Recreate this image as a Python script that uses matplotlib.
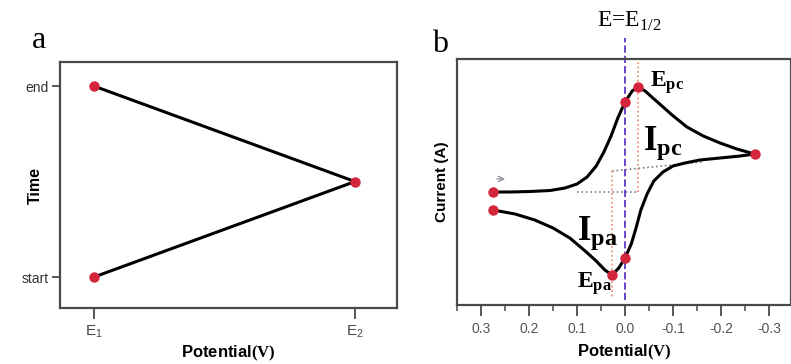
import matplotlib
matplotlib.use("Agg")
import matplotlib.pyplot as plt
from matplotlib.ticker import MultipleLocator

plt.rcParams['mathtext.fontset'] = 'custom'
plt.rcParams['mathtext.rm'] = 'Liberation Serif'
plt.rcParams['mathtext.bf'] = 'Liberation Serif:bold'
plt.rcParams['mathtext.sf'] = 'Liberation Sans'
plt.rcParams['font.family'] = 'Liberation Sans'

# ---- panel a: triangular potential sweep ----
sweep_E = [1, 2, 1]          # E1 -> E2 -> E1
sweep_t = [0, 0.5, 1]        # start -> end
sweep_ticks_x = [1, 2]
sweep_labels_x = [r'$\mathsf{E_1}$', r'$\mathsf{E_2}$']
sweep_ticks_y = [0, 1]
sweep_labels_y = ['start', 'end']

# ---- panel b: cyclic voltammogram ----
fwd_V = [0.275, 0.240, 0.198, 0.156, 0.125, 0.100, 0.079, 0.060, 0.044, 0.029,
         0.015, 0.000, -0.015, -0.027, -0.042, -0.058, -0.077, -0.098, -0.129,
         -0.163, -0.198, -0.233, -0.270]
fwd_I = [0.0, 0.0, 0.05, 0.15, 0.4, 0.8, 1.5, 2.6, 4.0, 5.6,
         7.4, 9.0, 10.1, 10.5, 10.1, 9.4, 8.6, 7.7, 6.5,
         5.6, 4.9, 4.3, 3.8]
rev_V = [-0.270, -0.240, -0.198, -0.156, -0.125, -0.100, -0.079, -0.060, -0.046,
         -0.033, -0.023, -0.013, 0.000, 0.013, 0.027, 0.042, 0.060, 0.083, 0.115,
         0.150, 0.188, 0.229, 0.275]
rev_I = [3.8, 3.6, 3.4, 3.2, 2.9, 2.6, 2.0, 1.1, -0.2,
         -1.8, -3.6, -5.2, -6.6, -7.6, -8.3, -7.8, -6.9, -5.9, -4.6,
         -3.6, -2.8, -2.2, -1.8]
# marked points: start, end, vertex, Epc, Epa and the two E1/2 crossings
mark_V = [0.275, 0.275, -0.270, -0.027, 0.027, 0.000, 0.000]
mark_I = [0.0, -1.8, 3.8, 10.5, -8.3, 9.0, -6.6]
E_half = 0.0
E_pc, I_pc_base = -0.027, 0.0
E_pa, I_pa_base = 0.027, 2.1
base_pa_V = [0.027, -0.160]
base_pa_I = [2.1, 3.0]
base_pc_V = [0.100, -0.027]
base_pc_I = [0.0, 0.0]

red = '#d3263c'
spine_c = '#4a4a4a'

fig = plt.figure(figsize=(7.91, 3.64), dpi=100)

# ---------- a ----------
ax1 = fig.add_axes([60/791, 1-308/364, 337/791, 246/364])
ax1.plot(sweep_E, sweep_t, color='black', lw=2.2, zorder=2)
ax1.plot(sweep_E, sweep_t, 'o', color=red, ms=6.5, zorder=3)
ax1.set_xlim(0.87, 2.161)
ax1.set_ylim(-0.162, 1.126)
ax1.set_xticks(sweep_ticks_x)
ax1.set_xticklabels(sweep_labels_x, fontsize=11, color='#444444')
ax1.set_yticks(sweep_ticks_y)
ax1.set_yticklabels(sweep_labels_y, fontsize=10, color='#333333')
ax1.tick_params(axis='x', direction='out', length=8, width=1.3, color=spine_c, pad=3)
ax1.tick_params(axis='y', direction='out', length=6, width=1.3, color=spine_c, pad=2)
for s in ax1.spines.values():
    s.set_color(spine_c)
    s.set_linewidth(1.6)
ax1.set_ylabel('Time', fontsize=11.5, fontweight='bold')
ax1.yaxis.set_label_coords(-0.05, 0.5)
ax1.set_xlabel(r'Potential$\mathbf{(V)}$', fontsize=12, fontweight='bold', labelpad=3)
fig.text(32/791, 1-48/364, 'a', fontsize=23, family='Liberation Serif', va='baseline')

# ---------- b ----------
ax2 = fig.add_axes([457/791, 1-305/364, 334/791, 246/364])
ax2.set_xlim(0.35, -0.3458)
ax2.set_ylim(-11.3, 13.3)

ax2.plot(base_pc_V, base_pc_I, ':', color='#7a7a98', lw=1.2, zorder=1)
ax2.plot(base_pa_V, base_pa_I, ':', color='#7a7a98', lw=1.2, zorder=1)
ax2.plot([E_pc, E_pc], [I_pc_base, 13.3], ':', color='#f08a68', lw=1.2, zorder=1)
ax2.plot([E_pa, E_pa], [I_pa_base, -10.5], ':', color='#f08a68', lw=1.2, zorder=1)
ax2.plot([E_half, E_half], [-10.8, 15.4], '--', color='#6a44c8', lw=1.4,
         zorder=1, clip_on=False)

ax2.plot(fwd_V, fwd_I, color='black', lw=2.2, zorder=2, solid_joinstyle='round')
ax2.plot(rev_V, rev_I, color='black', lw=2.2, zorder=2, solid_joinstyle='round')
ax2.plot(mark_V, mark_I, 'o', color=red, ms=6.5, zorder=3)

ax2.annotate('', xy=(0.244, 1.3), xytext=(0.273, 1.3),
             arrowprops=dict(arrowstyle='->', color='#8a8a9a', lw=0.9))

ax2.text(-0.052, 10.5, r'$\mathbf{E_{pc}}$', fontsize=17, va='baseline', ha='left')
ax2.text(-0.037, 4.2, r'$\mathbf{I_{pc}}$', fontsize=25, va='baseline', ha='left')
ax2.text(0.100, -4.8, r'$\mathbf{I_{pa}}$', fontsize=25, va='baseline', ha='left')
ax2.text(0.100, -9.6, r'$\mathbf{E_{pa}}$', fontsize=17, va='baseline', ha='left')
ax2.text(-0.008, 16.5, r'E=E$_{1/2}$', fontsize=17, family='Liberation Serif',
         va='baseline', ha='center', clip_on=False)

ax2.xaxis.set_major_locator(MultipleLocator(0.1))
ax2.xaxis.set_minor_locator(MultipleLocator(0.05))
ax2.xaxis.set_major_formatter(plt.FuncFormatter(lambda v, p: f'{v:.1f}'.replace('-0.0', '0.0')))
ax2.tick_params(axis='x', which='major', direction='out', length=8, width=1.3,
                color=spine_c, labelsize=10, labelcolor='#555555', pad=4)
ax2.tick_params(axis='x', which='minor', direction='out', length=4, width=1.1, color=spine_c)
ax2.set_yticks([])
for s in ax2.spines.values():
    s.set_color(spine_c)
    s.set_linewidth(1.6)
ax2.set_ylabel('Current (A)', fontsize=11, fontweight='bold', labelpad=6)
ax2.set_xlabel(r'Potential$\mathbf{(V)}$', fontsize=12, fontweight='bold', labelpad=5)
fig.text(432/791, 1-52/364, 'b', fontsize=23, family='Liberation Serif', va='baseline')

fig.savefig('out.png', dpi=100)
